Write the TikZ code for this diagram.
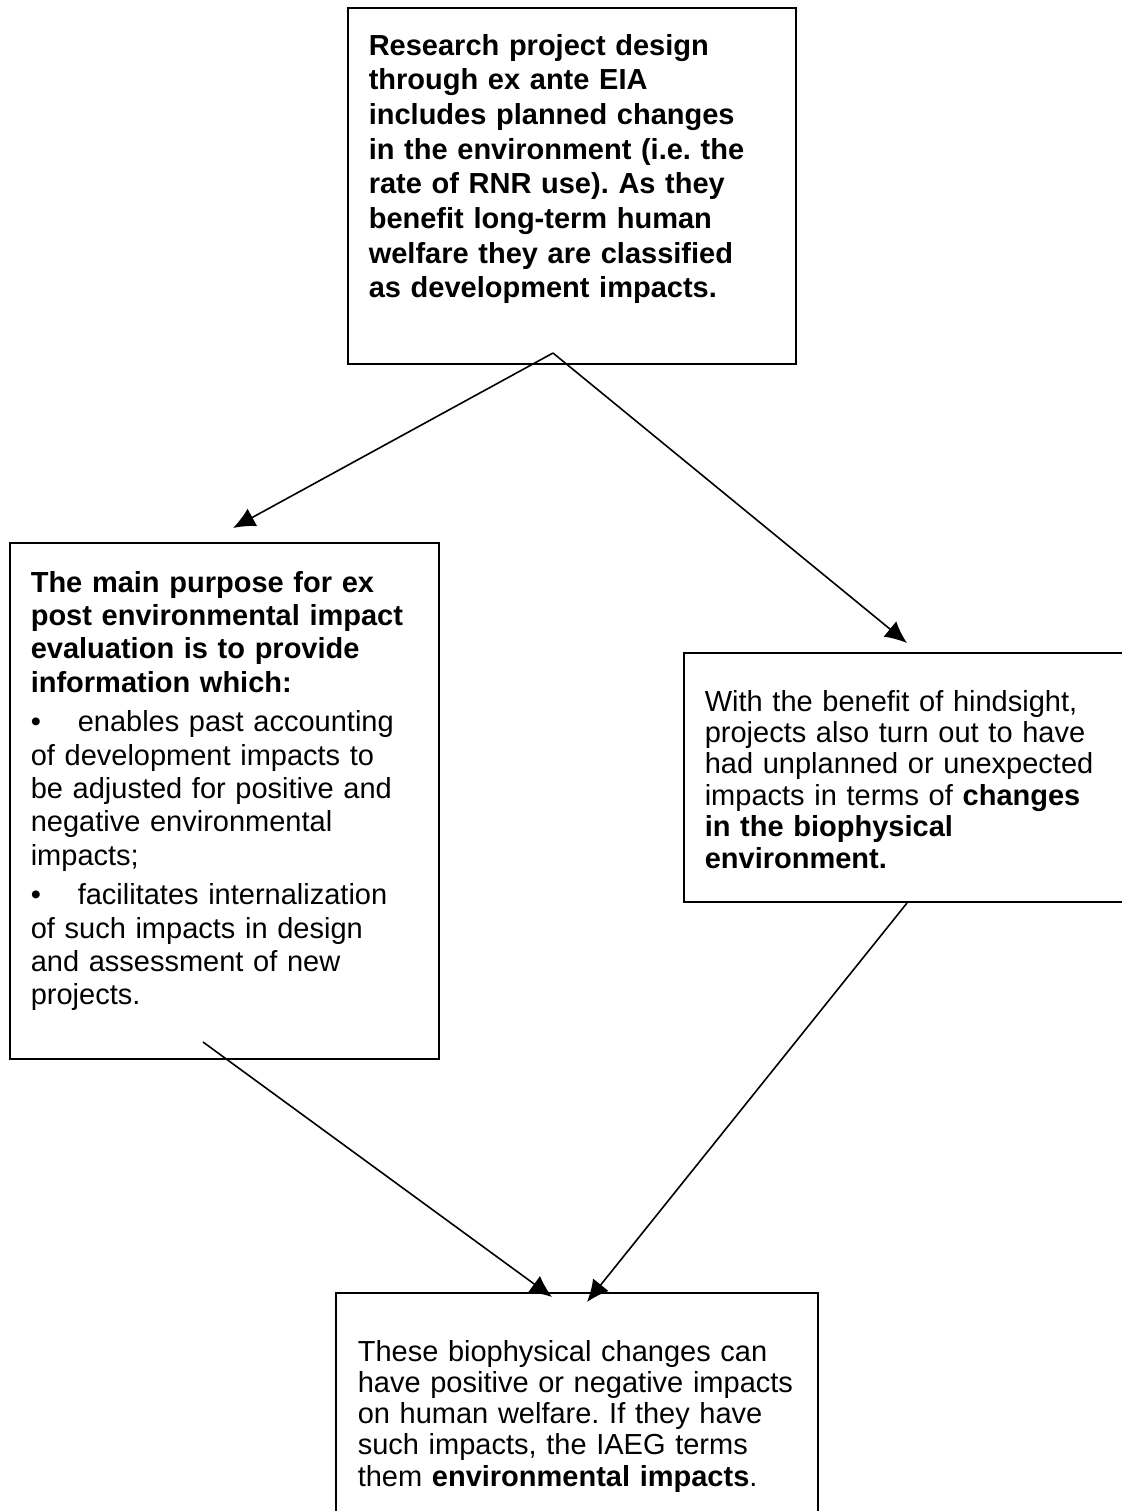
\documentclass[tikz,border=0pt]{standalone}
\usepackage{fontspec}
\setmainfont{Liberation Sans}
\usetikzlibrary{arrows.meta}
\frenchspacing

\newcommand{\bul}{\makebox[23.5pt][l]{\textbullet}}

\tikzset{
	boxframe/.style={draw, anchor=north west, inner sep=0pt},
	boxtext/.style={anchor=base west, inner sep=0pt, align=left, text width=250pt,
		font={\fontsize{14.5pt}{#1}\selectfont}},
}

\begin{document}
\begin{tikzpicture}[>={Latex[length=11pt,width=10pt]}, thick, x=0.5pt, y=-0.5pt]

\clip (0,0) rectangle (1122,1511);

% frames
\node[boxframe, minimum width=224pt, minimum height=178pt] (design) at (347,7) {};
\node[boxframe, minimum width=214.5pt, minimum height=258pt] (expost) at (9,542) {};
\node[boxframe, minimum width=230pt, minimum height=124.5pt] (hindsight) at (683,652) {};
\node[boxframe, minimum width=241pt, minimum height=125pt] (welfare) at (335,1292) {};

% texts
\node[boxtext=17.35pt] (designtext) at (368,55) {\bfseries Research project design\\
through ex ante EIA\\
includes planned changes\\
in the environment (i.e. the\\
rate of RNR use). As they\\
benefit long-term human\\
welfare they are classified\\
as development impacts.};

\node[boxtext=16.7pt] (expostlist) at (30,592) {\textbf{The main purpose for ex}\\
\textbf{post environmental impact}\\
\textbf{evaluation is to provide}\\
\textbf{information which:}\\[3pt]
\bul enables past accounting\\
of development impacts to\\
be adjusted for positive and\\
negative environmental\\
impacts;\\[3pt]
\bul facilitates internalization\\
of such impacts in design\\
and assessment of new\\
projects.};

\node[boxtext=15.7pt] (hindtext) at (704,711) {With the benefit of hindsight,\\
projects also turn out to have\\
had unplanned or unexpected\\
impacts in terms of \textbf{changes}\\
\textbf{in the biophysical}\\
\textbf{environment.}};

\node[boxtext=15.65pt] (welftext) at (357,1361) {These biophysical changes can\\
have positive or negative impacts\\
on human welfare. If they have\\
such impacts, the IAEG terms\\
them \textbf{environmental impacts}.};

% arrow ends
\coordinate (split) at (553,353);
\coordinate (expostin) at (233,528);
\coordinate (hindin) at (907,643);
\coordinate (expostout) at (203,1042);
\coordinate (hindout) at (907,903);
\coordinate (welfinA) at (552,1297);
\coordinate (welfinB) at (587,1302);

\draw[->] (split) -- (expostin);
\draw[->] (split) -- (hindin);
\draw[->] (expostout) -- (welfinA);
\draw[->] (hindout) -- (welfinB);

\end{tikzpicture}
\end{document}
